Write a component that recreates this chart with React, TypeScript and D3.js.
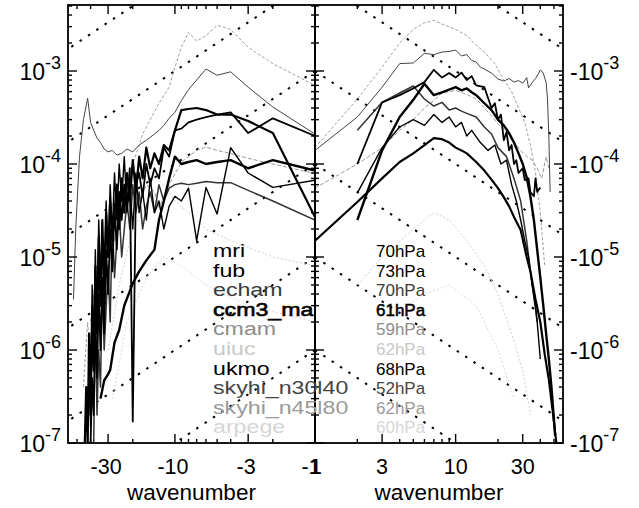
import * as d3 from 'd3';

// Spectra of equatorial waves, ten GCMs, near 70 hPa.
// Each spectrum: [wavenumber, power]; negative wavenumbers go in the left panel.
type Pt = [number, number];

const modelNames = ['mri', 'fub', 'echam', 'ccm3_ma', 'cmam', 'uiuc', 'ukmo', 'skyhi_n30l40', 'skyhi_n45l80', 'arpege'];
const pressureLabels = ['70hPa', '73hPa', '70hPa', '61hPa', '59hPa', '62hPa', '68hPa', '52hPa', '62hPa', '60hPa'];

const mri: Pt[] = [
  [-44, 1e-7], [-43, 4e-7], [-42, 1e-7], [-41, 1.5e-6], [-40, 2e-7], [-39, 3e-6], [-38, 6e-7], [-37, 8e-6],
  [-36, 1.5e-6], [-35, 1.6e-5], [-34, 3e-6], [-33, 2.5e-5], [-32, 5e-6], [-31, 3e-5], [-30, 1e-5], [-29, 4e-5],
  [-28, 1.5e-5], [-27, 3e-5], [-26, 6e-5], [-25, 2e-5], [-24, 7e-5], [-23, 3e-5], [-22, 8e-5], [-21, 4e-5],
  [-20, 1.1e-4], [-19, 5e-5], [-18, 1.2e-4], [-17, 7e-5], [-16, 1.5e-4], [-15, 9e-5], [-14, 1.3e-4], [-13, 1e-4],
  [-12, 1.6e-4], [-11, 1.4e-4], [-10, 2.3e-4], [-9, 3.8e-4], [-8, 3.9e-4], [-7, 4e-4], [-6, 3.8e-4], [-5, 3.4e-4],
  [-4, 3.4e-4], [-3, 2.9e-4], [-2, 2.15e-4], [-1, 2.7e-5],
  [1, 1.5e-5], [2, 3.9e-5], [3, 7e-5], [4, 1.05e-4], [5, 1.3e-4], [6, 1.6e-4], [7, 1.9e-4], [8, 1.85e-4],
  [9, 1.7e-4], [10, 1.5e-4], [11, 1.4e-4], [12, 1.3e-4], [14, 1.05e-4], [16, 8.5e-5], [18, 6.8e-5], [20, 5.5e-5],
  [22, 4.4e-5], [24, 3.5e-5], [26, 2.7e-5], [29, 1.95e-5], [32, 1e-5], [34, 7e-6], [37, 3.5e-6], [40, 2e-6],
  [43, 9e-7], [46, 4.8e-7], [49, 2.2e-7], [52, 1e-7],
];

const fub: Pt[] = [
  [-40, 1e-7], [-39, 5e-7], [-38, 2e-7], [-37, 2e-6], [-36, 5e-7], [-35, 4e-6], [-34, 1e-6], [-33, 6e-6],
  [-32, 1.5e-6], [-31, 1.2e-5], [-30, 4e-6], [-29, 2e-5], [-28, 7e-6], [-27, 3.5e-5], [-26, 1.2e-5], [-25, 5e-5],
  [-24, 2.5e-5], [-23, 6e-5], [-22, 3.5e-5], [-21, 9e-5], [-20, 1.7e-7], [-19, 6e-5], [-18, 8e-5], [-17, 4.5e-5],
  [-16, 1e-4], [-15, 6e-5], [-14, 9e-5], [-13, 7e-5], [-12, 1.5e-4], [-11, 1.2e-4], [-10, 2.3e-4], [-9, 2.4e-4],
  [-8, 2.8e-4], [-7, 3e-4], [-6, 3.2e-4], [-5, 3.4e-4], [-4, 3.6e-4], [-3, 2.15e-4], [-2, 3.1e-4], [-1, 2e-4],
  [2, 1e-4], [3, 4.6e-4], [4, 5.5e-4], [5, 6.5e-4], [6, 7.6e-4], [7, 1.03e-3], [8, 8.5e-4], [9, 9.5e-4],
  [10, 8.5e-4], [11, 9.6e-4], [12, 8e-4], [13, 8.8e-4], [14, 7e-4], [16, 6.7e-4], [18, 4e-4], [19, 4.5e-4],
  [20, 3e-4], [21, 3.4e-4], [22, 1.8e-4], [23, 2.2e-4], [24, 1.4e-4], [25, 1.6e-4], [26, 1e-4], [27, 1.1e-4],
  [28, 8e-5], [30, 9e-5], [31, 6.7e-5], [33, 7e-5], [34, 5e-5], [36, 4.5e-5], [37, 7e-5], [38, 5e-5], [40, 5.6e-5],
];

const echam: Pt[] = [
  [-53, 3.5e-6], [-51, 2.1e-5], [-48, 1.2e-4], [-45, 3e-4], [-42, 5.1e-4], [-40, 2.8e-4], [-38, 2.3e-4], [-36, 1.9e-4],
  [-34, 1.7e-4], [-32, 1.45e-4], [-30, 1.35e-4], [-28, 1.4e-4], [-26, 1.25e-4], [-24, 1.3e-4], [-22, 1.45e-4],
  [-20, 1.35e-4], [-18, 1.6e-4], [-16, 1.8e-4], [-14, 2.1e-4], [-13, 2.3e-4], [-12, 2.6e-4], [-11, 3.1e-4],
  [-10, 3.6e-4], [-9, 4.8e-4], [-8, 6.3e-4], [-7, 8e-4], [-6, 1.05e-3], [-5, 9e-4], [-4, 9.8e-4], [-3, 6.7e-4],
  [-2, 4.1e-4], [-1, 2.1e-4],
  [1, 1.4e-4], [2, 3.2e-4], [3, 6.7e-4], [4, 1.2e-3], [5, 1.22e-3], [6, 1.55e-3], [7, 1.5e-3], [8, 1.6e-3],
  [9, 1.62e-3], [10, 1.68e-3], [11, 1.45e-3], [12, 1.5e-3], [13, 1.3e-3], [14, 1.25e-3], [15, 1.1e-3], [16, 1.05e-3],
  [18, 9.5e-4], [20, 8.2e-4], [22, 7.8e-4], [24, 8.3e-4], [26, 7.6e-4], [28, 7.9e-4], [30, 7.4e-4], [32, 8.5e-4],
  [33, 6.6e-4], [35, 7.5e-4], [37, 8.3e-4], [39, 9.5e-4], [40, 1.03e-3], [42, 9.5e-4], [44, 7.5e-4], [45, 5e-4],
  [46, 2e-4], [47, 5e-5],
];

const ccm3: Pt[] = [
  [-34, 3e-7], [-32, 4.7e-7], [-30, 5.5e-7], [-29, 6.1e-7], [-27, 1.2e-6], [-25, 1.64e-6], [-23, 3e-6], [-20, 5.2e-6],
  [-18, 7e-6], [-16, 9.2e-6], [-14, 1.2e-5], [-13, 2.5e-5], [-12, 4e-5], [-11, 7e-5], [-10, 1.2e-4], [-9, 1e-4],
  [-8, 1.05e-4], [-7, 1.1e-4], [-6, 1e-4], [-5, 1.05e-4], [-4, 1.1e-4], [-3, 9e-5], [-2, 1.1e-4], [-1, 8.5e-5],
  [2, 2.5e-5], [3, 1.4e-4], [4, 3.2e-4], [5, 4.9e-4], [6, 7.3e-4], [7, 5.5e-4], [8, 5.9e-4], [9, 6.3e-4],
  [10, 6.7e-4], [11, 6.2e-4], [12, 6.5e-4], [13, 5.9e-4], [14, 5.5e-4], [16, 4.5e-4], [18, 3.8e-4], [20, 3e-4],
  [22, 2.6e-4], [24, 2.15e-4], [26, 1.7e-4], [28, 1.3e-4], [30, 1e-4], [32, 7.2e-5], [34, 4.5e-5], [36, 2.5e-5],
  [38, 1.2e-5], [40, 6e-6], [42, 3e-6], [44, 1.5e-6], [46, 8e-7], [48, 4e-7], [50, 1.8e-7], [51, 1.2e-7],
];

const cmam: Pt[] = [
  [-45, 4e-7], [-42, 2e-6], [-40, 8e-7], [-38, 4e-6], [-35, 1e-5], [-32, 6e-6], [-30, 2e-5], [-27, 1.5e-5],
  [-25, 4e-5], [-22, 6e-5], [-20, 1e-4], [-18, 1.6e-4], [-17, 2.1e-4], [-15, 3e-4], [-13, 4.5e-4], [-11, 6.7e-4],
  [-10, 1.1e-3], [-9, 1.8e-3], [-8, 2.6e-3], [-7, 2.1e-3], [-6, 2.4e-3], [-5, 3.1e-3], [-4, 2.8e-3], [-3, 1.8e-3],
  [-2, 1.2e-3], [-1, 7e-4],
  [1, 1.5e-4], [2, 5e-4], [3, 1.1e-3], [4, 2e-3], [5, 2.8e-3], [6, 3.3e-3], [7, 3.5e-3], [8, 3.2e-3], [10, 2.8e-3],
  [12, 2.4e-3], [14, 1.9e-3], [16, 1.6e-3], [19, 1.2e-3], [22, 8e-4], [25, 6e-4], [28, 4e-4], [31, 2.8e-4],
  [34, 1.6e-4], [37, 8e-5], [40, 3e-5], [43, 8e-6],
];

const uiuc: Pt[] = [
  [-30, 1e-6], [-25, 5e-6], [-20, 2e-5], [-15, 4e-5], [-12, 6e-5], [-10, 4e-5], [-8, 3e-5], [-6, 2e-5],
  [-4, 1.5e-5], [-2, 1e-5], [-1, 8e-6],
  [2, 5e-6], [3, 1e-5], [5, 2e-5], [7, 3e-5], [9, 2.5e-5], [12, 1.5e-5], [16, 8e-6], [20, 4e-6], [25, 1.5e-6],
  [30, 6e-7], [34, 2e-7],
];

const ukmo: Pt[] = [
  [-42, 1e-7], [-41, 8e-7], [-40, 1.5e-7], [-39, 5e-6], [-38, 1e-6], [-37, 1.2e-5], [-36, 2e-6], [-35, 2.5e-5],
  [-34, 6e-6], [-33, 1.5e-5], [-32, 3e-6], [-31, 4e-5], [-30, 1e-5], [-29, 6e-5], [-28, 1.8e-5], [-27, 8e-5],
  [-26, 2.5e-5], [-25, 1e-4], [-24, 4e-5], [-23, 1.2e-4], [-22, 3e-5], [-21, 6e-5], [-20, 2e-5], [-19, 8e-5],
  [-18, 3e-5], [-17, 5e-5], [-16, 2.5e-5], [-15, 7e-5], [-14, 3e-5], [-13, 4e-5], [-12, 2e-5], [-11, 3.5e-5],
  [-10, 4.5e-5], [-9, 4e-5], [-8, 5.5e-5], [-7, 1.5e-5], [-6, 5.6e-5], [-5, 2.9e-5], [-4, 1.5e-4], [-3, 8e-5],
  [-2, 5.6e-5], [-1, 6.7e-5],
  [2, 4.9e-5], [3, 1.5e-4], [4, 2.5e-4], [5, 3e-4], [6, 2.6e-4], [7, 3.4e-4], [8, 2.8e-4], [9, 3.2e-4],
  [10, 2.5e-4], [11, 2.8e-4], [12, 2e-4], [13, 2.3e-4], [15, 1.7e-4], [17, 1.4e-4], [19, 1.6e-4], [21, 1e-4],
  [23, 1.1e-4], [25, 6e-5], [27, 4e-5], [29, 2.5e-5], [31, 1.5e-5], [33, 1e-5], [35, 5e-6], [37, 3e-6],
  [38, 2e-6], [40, 8e-7],
];

const skyhi30: Pt[] = [
  [-38, 1e-7], [-37, 3e-6], [-36, 2e-7], [-35, 1e-6], [-34, 4e-7], [-33, 5e-6], [-32, 1e-6], [-30, 8e-6],
  [-29, 2e-6], [-28, 2.5e-5], [-27, 6e-6], [-26, 1.5e-5], [-25, 3e-5], [-24, 1e-5], [-22, 4e-5], [-21, 2e-5],
  [-20, 6e-5], [-19, 3e-5], [-18, 5e-5], [-17, 2e-5], [-16, 3.5e-5], [-15, 5e-5], [-14, 3e-5], [-13, 6e-5],
  [-12, 4e-5], [-11, 5.5e-5], [-10, 6e-5], [-9, 6.2e-5], [-8, 6e-5], [-7, 6.2e-5], [-6, 6.5e-5], [-5, 6.3e-5],
  [-4, 6.3e-5], [-3, 5.2e-5], [-2, 4e-5], [-1, 2.5e-5],
  [2, 2.3e-4], [3, 4.6e-4], [4, 5.8e-4], [5, 6.9e-4], [6, 5e-4], [7, 4.2e-4], [8, 4.6e-4], [9, 3.8e-4],
  [10, 4e-4], [11, 3.7e-4], [12, 3.5e-4], [14, 3.2e-4], [16, 2.5e-4], [18, 2.1e-4], [20, 1.5e-4], [23, 1.2e-4],
  [26, 7e-5], [29, 4e-5], [32, 1.5e-5], [35, 5e-6], [38, 2e-6],
];

const skyhi45: Pt[] = [
  [-40, 2e-6], [-36, 8e-6], [-33, 5e-6], [-30, 2e-5], [-27, 1.5e-5], [-24, 3e-5], [-21, 5e-5], [-18, 4e-5],
  [-16, 6e-5], [-14, 5e-5], [-13, 3.4e-5], [-11, 6e-5], [-9, 1.05e-4], [-8, 1.2e-4], [-7, 1.4e-4], [-6, 1.52e-4],
  [-5, 1.4e-4], [-4, 1.3e-4], [-3, 1.15e-4], [-2, 1e-4], [-1, 7.9e-5],
  [1, 5.5e-5], [2, 1e-4], [3, 1.5e-4], [4, 2.3e-4], [5, 3e-4], [6, 4e-4], [7, 4.8e-4], [8, 5.8e-4], [9, 6e-4],
  [10, 6.2e-4], [12, 5.6e-4], [14, 5e-4], [16, 4e-4], [18, 3.3e-4], [20, 2.7e-4], [23, 2.2e-4], [26, 1.7e-4],
  [29, 1.4e-4], [32, 1.2e-4], [35, 1.1e-4], [38, 9e-5], [41, 7e-5], [44, 1.2e-4], [46, 9e-5],
];

const arpege: Pt[] = [
  [-28, 3e-7], [-22, 2e-6], [-16, 6e-6], [-12, 1e-5], [-9, 8e-6], [-6, 5e-6], [-3, 3e-6], [-1, 2e-6],
  [3, 2e-6], [6, 4e-6], [9, 5e-6], [14, 3e-6], [20, 1e-6], [26, 3e-7],
];

const spectra = [mri, fub, echam, ccm3, cmam, uiuc, ukmo, skyhi30, skyhi45, arpege];
const lineColors = ['#000', '#000', '#444', '#000', '#a0a0a0', '#d0d0d0', '#000', '#333', '#9a9a9a', '#dadada'];
const textColors = ['#000', '#000', '#3a3a3a', '#000', '#8c8c8c', '#c8c8c8', '#000', '#444', '#9a9a9a', '#d6d6d6'];
const lineWidths = [2.2, 1.8, 1, 2.4, 1, 1, 1.4, 1.5, 1, 1];
const lineDashes = ['', '', '', '', '3 2', '2 2', '', '', '4 2', '2 2'];
const drawOrder = [9, 5, 4, 8, 2, 7, 6, 1, 0, 3];

// k^-1 reference lines, labelled by their value at |k| = 1
const refLevels = [1e-1, 1e-2, 1e-3, 1e-4, 1e-5, 1e-6, 1e-7, 1e-8];
const yExponents = [-7, -6, -5, -4, -3];
const leftTicks = [30, 10, 3, 1];
const rightTicks = [1, 3, 10, 30];

const X0 = 68, XM = 315, X1 = 563, Y0 = 5, Y1 = 443;
const FONT = '"Liberation Sans", Arial, Helvetica, sans-serif';

export default function App() {
  const y = d3.scaleLog().domain([1e-7, Math.pow(10, -7 + (Y1 - Y0) / 93)]).range([Y1, Y0]);
  const xL = d3.scaleLog().domain([58, 1]).range([X0, XM]);
  const xR = d3.scaleLog().domain([1, 58]).range([XM, X1]);

  const lineL = d3.line<Pt>().x(d => xL(-d[0])).y(d => y(d[1]));
  const lineR = d3.line<Pt>().x(d => xR(d[0])).y(d => y(d[1]));

  const yMinor = y.ticks().filter(v => v >= 1e-7);
  const xMinor = d3.range(1, 10).concat(d3.range(10, 60, 10));
  const isMajorY = (v: number) => Math.abs(Math.log10(v) - Math.round(Math.log10(v))) < 1e-6;

  const legendTop = 257, legendStep = 19.6;

  return (
    <svg width={639} height={508} style={{ position: 'absolute', left: 0, top: 0, background: '#fff' }} fontFamily={FONT}>
      <defs>
        <clipPath id="clipL"><rect x={X0} y={Y0} width={XM - X0} height={Y1 - Y0} /></clipPath>
        <clipPath id="clipR"><rect x={XM} y={Y0} width={X1 - XM} height={Y1 - Y0} /></clipPath>
      </defs>

      {/* dotted reference slopes */}
      <g clipPath="url(#clipL)">
        {refLevels.map(c => (
          <line key={'l' + c} x1={xL(1)} y1={y(c)} x2={xL(58)} y2={y(c / 58)}
            stroke="#000" strokeWidth={2} strokeDasharray="2.5 7.5" />
        ))}
      </g>
      <g clipPath="url(#clipR)">
        {refLevels.map(c => (
          <line key={'r' + c} x1={xR(1)} y1={y(c)} x2={xR(58)} y2={y(c / 58)}
            stroke="#000" strokeWidth={2} strokeDasharray="2.5 7.5" />
        ))}
      </g>

      {/* spectra */}
      {drawOrder.map(i => {
        const neg = spectra[i].filter(d => d[0] < 0);
        const pos = spectra[i].filter(d => d[0] > 0);
        return (
          <g key={modelNames[i]} fill="none" stroke={lineColors[i]} strokeWidth={lineWidths[i]}
            strokeDasharray={lineDashes[i] || undefined} strokeLinejoin="round">
            <path d={lineL(neg) || ''} clipPath="url(#clipL)" />
            <path d={lineR(pos) || ''} clipPath="url(#clipR)" />
          </g>
        );
      })}

      {/* frame */}
      <g stroke="#000" fill="none">
        <rect x={X0} y={Y0} width={X1 - X0} height={Y1 - Y0} strokeWidth={1.8} />
        <line x1={XM} y1={Y0} x2={XM} y2={Y1} strokeWidth={2} />
        {yMinor.map(v => {
          const len = isMajorY(v) ? 9 : 4;
          const yy = y(v);
          return (
            <g key={'yt' + v} strokeWidth={1.4}>
              <line x1={X0} x2={X0 + len} y1={yy} y2={yy} />
              <line x1={X1} x2={X1 - len} y1={yy} y2={yy} />
              <line x1={XM - len} x2={XM + len} y1={yy} y2={yy} />
            </g>
          );
        })}
        {xMinor.map(k => {
          const len = leftTicks.includes(k) ? 9 : 4;
          return (
            <g key={'xt' + k} strokeWidth={1.4}>
              <line x1={xL(k)} x2={xL(k)} y1={Y1} y2={Y1 - len} />
              <line x1={xL(k)} x2={xL(k)} y1={Y0} y2={Y0 + len} />
              <line x1={xR(k)} x2={xR(k)} y1={Y1} y2={Y1 - len} />
              <line x1={xR(k)} x2={xR(k)} y1={Y0} y2={Y0 + len} />
            </g>
          );
        })}
      </g>

      {/* y labels */}
      {yExponents.map(e => (
        <g key={'yl' + e}>
          <text x={61} y={y(Math.pow(10, e)) + 9} textAnchor="end" fontSize={23}>
            10<tspan dy={-11} fontSize={18}>{e}</tspan>
          </text>
          <text x={570} y={y(Math.pow(10, e)) + 9} fontSize={23}>
            -10<tspan dy={-11} fontSize={18}>{e}</tspan>
          </text>
        </g>
      ))}

      {/* x labels */}
      {leftTicks.map(k => (
        <text key={'xl' + k} x={xL(k) - (k === 1 ? 4 : 2)} y={474} textAnchor="middle" fontSize={21.5}>{-k}</text>
      ))}
      {rightTicks.map(k => (
        <text key={'xr' + k} x={xR(k) + (k === 1 ? 1 : 0)} y={474} textAnchor="middle" fontSize={21.5}>{k}</text>
      ))}
      <text x={(X0 + XM) / 2} y={500} textAnchor="middle" fontSize={22.5}>wavenumber</text>
      <text x={(XM + X1) / 2} y={500} textAnchor="middle" fontSize={22.5}>wavenumber</text>

      {/* legend */}
      {modelNames.map((name, i) => (
        <g key={'lg' + name} fill={textColors[i]}>
          <text transform={`translate(213,${legendTop + i * legendStep}) scale(1.22,1)`} fontSize={19}
            stroke={i === 3 ? '#000' : 'none'} strokeWidth={0.6}>{name}</text>
          <text x={376} y={legendTop + i * legendStep} fontSize={17}
            stroke={i === 3 ? '#000' : 'none'} strokeWidth={0.5}>{pressureLabels[i]}</text>
        </g>
      ))}
    </svg>
  );
}
